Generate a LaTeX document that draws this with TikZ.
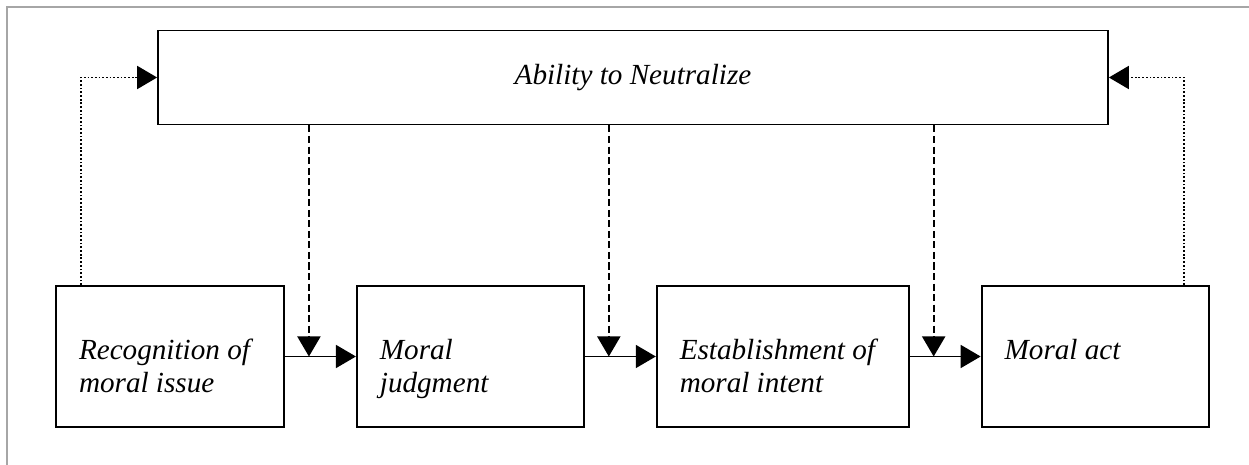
\documentclass[tikz,border=0pt]{standalone}
\usepackage{fontspec}
\setmainfont{Liberation Serif}
\usetikzlibrary{arrows.meta,calc,positioning}

\begin{document}
\begin{tikzpicture}[x=0.02cm,y=-0.02cm,>={Triangle[length=0.4cm,width=0.46cm]},
  stage/.style={draw,line width=1.1pt,inner ysep=0pt,text height=1.48cm,text depth=1.34cm,
    inner xsep=0.46cm,align=flush left,text width=#1,
    font=\fontsize{16.6}{18.7}\selectfont\itshape},
  neutral/.style={draw,line width=1.1pt,minimum width=19cm,minimum height=1.88cm,
    font=\fontsize{16.6}{18.7}\selectfont\itshape},
  flow/.style={->,line width=0.9pt},
  moderate/.style={->,line width=1pt,dash pattern=on 4pt off 2pt},
  feedback/.style={->,line width=1.1pt,dash pattern=on 1pt off 1.1pt}]
\useasboundingbox (0,0) rectangle (1249,465);
% frame
\draw[gray!70,line width=0.6pt] (7,465) -- (7,7) -- (1249,7);
% the four stages
\node[stage=3.64cm] (recog) at (170,356.5) {Recognition of\\moral issue};
\node[stage=3.62cm,right=1.42cm of recog] (judg) {Moral\\judgment};
\node[stage=4.12cm,right=1.42cm of judg] (intent) {Establishment of\\moral intent};
\node[stage=3.62cm,right=1.42cm of intent] (act) {Moral act};
\node[neutral] (neut) at (633,77.5) {Ability to Neutralize};
% main sequence
\draw[flow] (recog) -- (judg);
\draw[flow] (judg) -- (intent);
\draw[flow] (intent) -- (act);
% neutralization acts on each step
\coordinate[right=0.48cm of recog.east] (j1);
\coordinate[right=0.48cm of judg.east] (j2);
\coordinate[right=0.48cm of intent.east] (j3);
\foreach \j in {j1,j2,j3}
  \draw[moderate] (neut.south -| \j) -- (\j);
% feedback
\draw[feedback] ([xshift=0.52cm]recog.north west) |- (neut.west);
\draw[feedback] ([xshift=-0.52cm]act.north east) |- (neut.east);
\end{tikzpicture}
\end{document}
